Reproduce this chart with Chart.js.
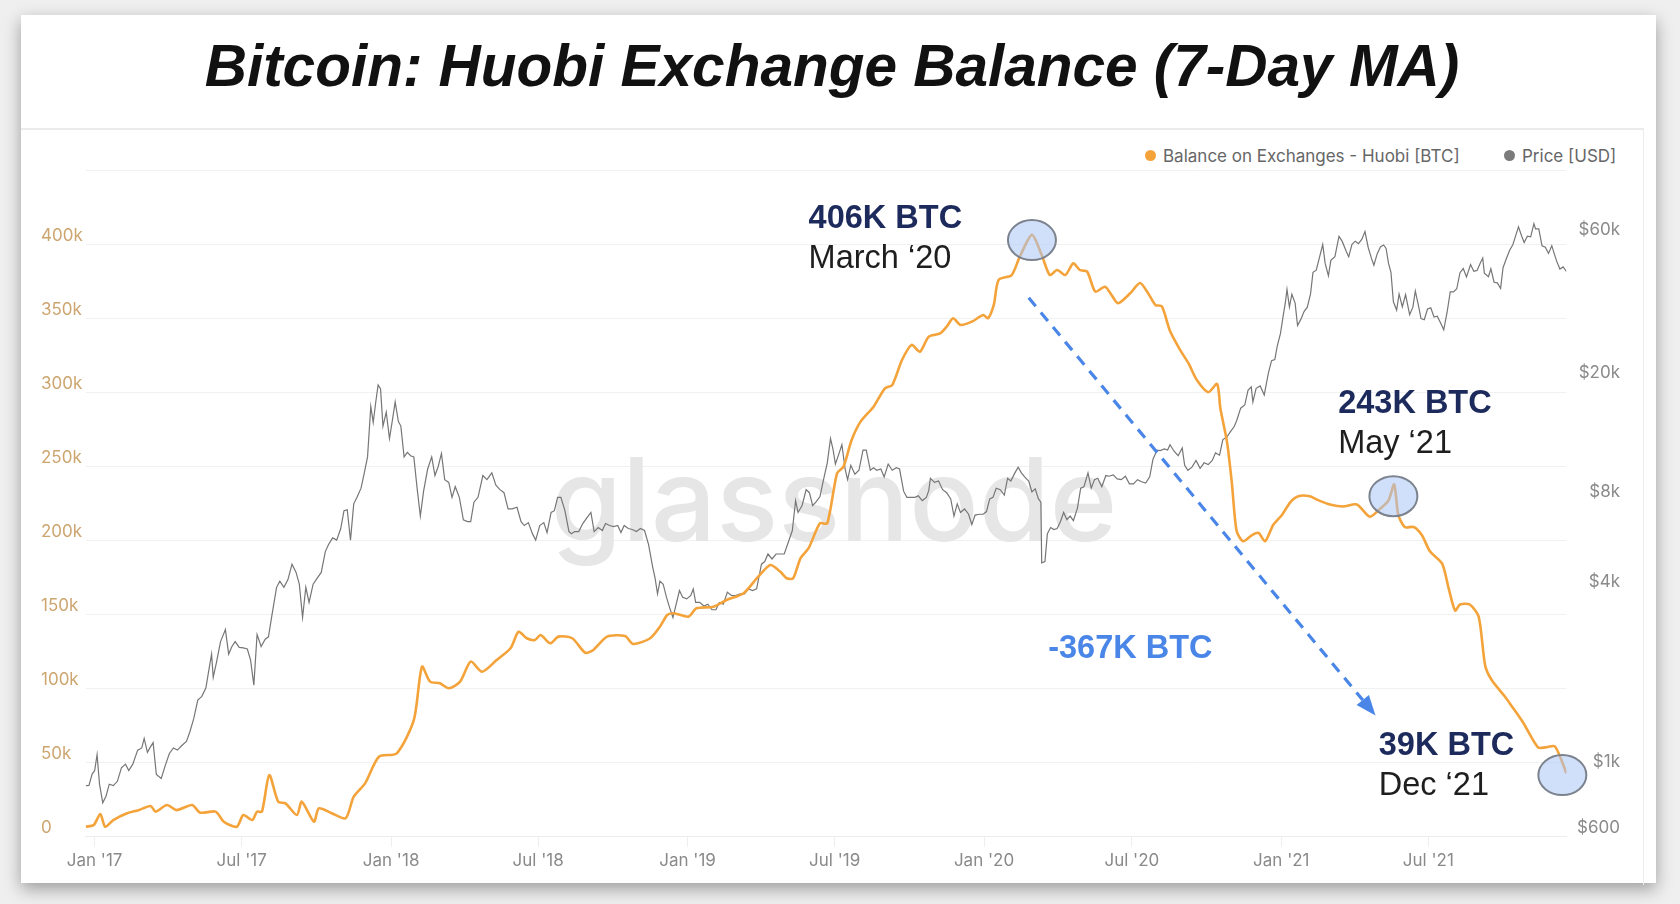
<!DOCTYPE html>
<html>
<head>
<meta charset="utf-8">
<script src="https://cdn.jsdelivr.net/npm/chart.js@4.4.1/dist/chart.umd.min.js"></script>
<style>
  html, body { margin:0; padding:0; width:1680px; height:904px; overflow:hidden; background:#efefef; }
  #card { position:absolute; left:21px; top:15px; width:1635px; height:868px; background:#fff;
          box-shadow:0 6px 16px rgba(0,0,0,0.35); }
  #panel { position:absolute; left:21px; top:128px; width:1622px; height:755px;
           border-top:2px solid #ebebeb; border-right:1px solid #ececec; }
  #title { position:absolute; left:21px; width:1622px; top:31.5px; line-height:58px; text-align:center;
           font: italic bold 58.5px "Liberation Sans", Arial, sans-serif; color:#111; white-space:nowrap; }
  .leg { position:absolute; top:145px; height:21px; display:flex; align-items:center;
         font: 17px Inter, sans-serif; color:#666; white-space:nowrap; }
  .dot { width:11px; height:11px; border-radius:50%; margin-right:7px; }
  #c { position:absolute; left:0; top:0; }
</style>
</head>
<body>
<div id="card"></div>
<div id="panel"></div>
<div id="title">Bitcoin: Huobi Exchange Balance (7-Day MA)</div>
<div class="leg" style="left:1145px"><span class="dot" style="background:#f4a33a"></span>Balance on Exchanges - Huobi [BTC]</div>
<div class="leg" style="left:1504px"><span class="dot" style="background:#7b7b7b"></span>Price [USD]</div>
<canvas id="c" width="1680" height="904"></canvas>
<script>
// ---------- DATA ----------
const balanceDates = ['2016-12-21','2016-12-31','2017-01-08','2017-01-14','2017-01-24','2017-02-10','2017-02-24','2017-03-11','2017-03-17','2017-03-31','2017-04-12','2017-05-01','2017-05-11','2017-05-30','2017-06-09','2017-06-25','2017-07-03','2017-07-14','2017-07-20','2017-07-26','2017-08-04','2017-08-15','2017-08-24','2017-09-07','2017-09-13','2017-09-28','2017-10-04','2017-10-20','2017-11-06','2017-11-16','2017-11-30','2017-12-17',
'2018-01-08','2018-01-29','2018-02-08','2018-02-18','2018-03-02','2018-03-13','2018-03-27','2018-04-09','2018-04-23','2018-05-11','2018-05-28','2018-06-07','2018-06-17','2018-06-27','2018-07-04','2018-07-16','2018-07-26','2018-08-12','2018-08-28','2018-09-07','2018-09-24','2018-10-16','2018-10-26','2018-11-16','2018-11-28','2018-12-07','2018-12-15',
'2019-01-02','2019-01-12','2019-02-02','2019-02-18','2019-03-11','2019-03-29','2019-04-13','2019-04-25','2019-05-03','2019-05-11','2019-05-20','2019-05-30','2019-06-13','2019-06-22','2019-07-04','2019-07-12','2019-07-22','2019-08-02','2019-08-18','2019-09-01','2019-09-10','2019-09-22','2019-10-04','2019-10-14','2019-10-25','2019-11-08','2019-11-16','2019-11-24','2019-12-03','2019-12-17','2019-12-31',
'2020-01-06','2020-01-13','2020-01-19','2020-02-04','2020-02-14','2020-02-29','2020-03-12','2020-03-22','2020-03-31','2020-04-10','2020-04-20','2020-04-28','2020-05-07','2020-05-17','2020-05-29','2020-06-06','2020-06-14','2020-06-29','2020-07-11','2020-07-21','2020-07-30','2020-08-07','2020-08-17','2020-08-29','2020-09-09','2020-09-19','2020-10-03','2020-10-14','2020-10-18','2020-10-26','2020-11-01','2020-11-07','2020-11-15','2020-11-26','2020-12-04','2020-12-12','2020-12-22',
'2021-01-02','2021-01-12','2021-01-22','2021-02-05','2021-02-16','2021-03-02','2021-03-18','2021-04-04','2021-04-20','2021-05-03','2021-05-13','2021-05-20','2021-05-25','2021-06-02','2021-06-13','2021-06-23','2021-07-03','2021-07-18','2021-07-26','2021-08-03','2021-08-09','2021-08-21','2021-09-01','2021-09-09','2021-09-17','2021-10-03','2021-10-12','2021-10-26','2021-11-13','2021-11-22','2021-12-04','2021-12-18'];

// Huobi exchange balance, thousands of BTC
const balanceKBtc = [6.8,8,15.4,6.8,11.3,15.9,18,20.8,17,21.5,18,21.5,16.3,17,10.2,6.8,14.7,11.3,17,17,41.7,23.7,22.6,14.7,23.7,10.2,19.2,15.9,12.5,27.1,36.1,54.1,
56.4,78.9,114.9,104.8,103.7,100.3,104.8,118.3,111.5,119.4,127.3,138.5,134.1,132.9,136.3,130.7,135.2,134.1,124.3,126.2,135.2,135.6,130.2,134.1,141.9,149.8,151,
148.7,154.3,155.4,159.9,164.5,175.7,183.6,179.1,174.6,174.6,188.1,194.9,211.7,211.7,245.5,250,268,280.4,290.5,302.9,305.1,322,332.2,327.6,337.8,340,344.5,350.2,345.7,347.9,352.4,
350.2,359.2,376.1,379.4,391.8,406.5,392.9,379.4,382.8,379.4,387.3,382.8,381.7,368.2,371.5,365.9,360.3,367.1,374,367.1,359.2,358.2,341.6,329.2,319.5,308.5,300.3,305.8,289.2,267.2,239.6,206.5,199.6,203.8,205.2,199.6,210.6,
217.5,225.9,230,230,227.2,224.4,223.1,224.4,216.2,221.7,227.2,238,217.5,209.2,209.2,203.8,192.8,184.5,167.9,152.8,156.9,156.9,148.7,115.6,105.9,94.9,88,76.9,60.4,60.4,61,43];

const priceDates = ['2016-12-21','2016-12-25','2016-12-29','2017-01-01','2017-01-04','2017-01-07','2017-01-11','2017-01-15','2017-01-19','2017-01-24','2017-01-29','2017-02-03','2017-02-08','2017-02-12','2017-02-17','2017-02-23','2017-02-28','2017-03-03','2017-03-07','2017-03-10','2017-03-14','2017-03-18','2017-03-24','2017-03-29','2017-04-03','2017-04-08','2017-04-13','2017-04-18','2017-04-24','2017-04-28','2017-05-03','2017-05-08','2017-05-13','2017-05-18','2017-05-22','2017-05-25','2017-05-27','2017-05-31','2017-06-05','2017-06-11','2017-06-15','2017-06-19','2017-06-23','2017-06-28','2017-07-03','2017-07-08','2017-07-12','2017-07-16','2017-07-20','2017-07-25','2017-07-30','2017-08-03','2017-08-08','2017-08-13','2017-08-17','2017-08-22','2017-08-27','2017-09-01','2017-09-06','2017-09-10','2017-09-14','2017-09-18','2017-09-22','2017-09-27','2017-10-02','2017-10-07','2017-10-12','2017-10-16','2017-10-21','2017-10-26','2017-10-31','2017-11-04','2017-11-08','2017-11-12','2017-11-16','2017-11-20','2017-11-25','2017-11-29','2017-12-03','2017-12-07','2017-12-10','2017-12-13','2017-12-16','2017-12-19','2017-12-22','2017-12-26','2017-12-30',
'2018-01-03','2018-01-06','2018-01-10','2018-01-13','2018-01-17','2018-01-21','2018-01-25','2018-01-29','2018-02-02','2018-02-06','2018-02-10','2018-02-15','2018-02-20','2018-02-24','2018-02-28','2018-03-04','2018-03-08','2018-03-13','2018-03-17','2018-03-21','2018-03-26','2018-03-31','2018-04-05','2018-04-09','2018-04-13','2018-04-18','2018-04-24','2018-04-29','2018-05-05','2018-05-10','2018-05-15','2018-05-20','2018-05-25','2018-05-30','2018-06-05','2018-06-10','2018-06-14','2018-06-19','2018-06-24','2018-06-28','2018-07-03','2018-07-08','2018-07-12','2018-07-17','2018-07-21','2018-07-25','2018-07-29','2018-08-03','2018-08-08','2018-08-11','2018-08-15','2018-08-20','2018-08-25','2018-08-30','2018-09-04','2018-09-08','2018-09-13','2018-09-18','2018-09-22','2018-09-27','2018-10-02','2018-10-07','2018-10-11','2018-10-15','2018-10-20','2018-10-25','2018-10-30','2018-11-04','2018-11-09','2018-11-14','2018-11-19','2018-11-22','2018-11-25','2018-11-28','2018-12-02','2018-12-06','2018-12-10','2018-12-14','2018-12-18','2018-12-22','2018-12-26','2018-12-31',
'2019-01-05','2019-01-08','2019-01-11','2019-01-16','2019-01-21','2019-01-26','2019-01-31','2019-02-05','2019-02-09','2019-02-14','2019-02-19','2019-02-24','2019-03-01','2019-03-07','2019-03-12','2019-03-17','2019-03-22','2019-03-27','2019-04-02','2019-04-06','2019-04-10','2019-04-15','2019-04-20','2019-04-25','2019-04-30','2019-05-05','2019-05-10','2019-05-14','2019-05-17','2019-05-22','2019-05-27','2019-05-31','2019-06-04','2019-06-08','2019-06-13','2019-06-17','2019-06-22','2019-06-26','2019-06-29','2019-07-02','2019-07-06','2019-07-10','2019-07-14','2019-07-17','2019-07-21','2019-07-26','2019-07-31','2019-08-05','2019-08-09','2019-08-14','2019-08-18','2019-08-22','2019-08-27','2019-08-31','2019-09-05','2019-09-10','2019-09-15','2019-09-19','2019-09-24','2019-09-28','2019-10-03','2019-10-08','2019-10-12','2019-10-17','2019-10-22','2019-10-25','2019-10-27','2019-11-01','2019-11-06','2019-11-11','2019-11-16','2019-11-21','2019-11-25','2019-11-29','2019-12-03','2019-12-08','2019-12-13','2019-12-17','2019-12-21','2019-12-26','2019-12-31',
'2020-01-04','2020-01-08','2020-01-12','2020-01-16','2020-01-21','2020-01-26','2020-01-30','2020-02-03','2020-02-08','2020-02-12','2020-02-16','2020-02-20','2020-02-25','2020-02-29','2020-03-04','2020-03-08','2020-03-11','2020-03-12','2020-03-16','2020-03-19','2020-03-23','2020-03-27','2020-03-31','2020-04-04','2020-04-08','2020-04-12','2020-04-16','2020-04-20','2020-04-25','2020-04-29','2020-05-03','2020-05-08','2020-05-12','2020-05-16','2020-05-20','2020-05-25','2020-05-30','2020-06-03','2020-06-08','2020-06-13','2020-06-18','2020-06-23','2020-06-28','2020-07-03','2020-07-08','2020-07-13','2020-07-18','2020-07-23','2020-07-27','2020-08-01','2020-08-05','2020-08-10','2020-08-14','2020-08-17','2020-08-22','2020-08-27','2020-09-01','2020-09-04','2020-09-08','2020-09-13','2020-09-18','2020-09-23','2020-09-28','2020-10-03','2020-10-08','2020-10-12','2020-10-17','2020-10-21','2020-10-26','2020-10-30','2020-11-04','2020-11-07','2020-11-12','2020-11-17','2020-11-21','2020-11-25','2020-11-27','2020-12-01','2020-12-06','2020-12-11','2020-12-16','2020-12-20','2020-12-24','2020-12-27','2020-12-31',
'2021-01-03','2021-01-06','2021-01-08','2021-01-11','2021-01-14','2021-01-18','2021-01-21','2021-01-25','2021-01-29','2021-02-02','2021-02-06','2021-02-09','2021-02-13','2021-02-17','2021-02-21','2021-02-24','2021-02-28','2021-03-03','2021-03-08','2021-03-13','2021-03-17','2021-03-22','2021-03-25','2021-03-29','2021-04-02','2021-04-06','2021-04-10','2021-04-14','2021-04-18','2021-04-22','2021-04-25','2021-04-29','2021-05-03','2021-05-07','2021-05-10','2021-05-13','2021-05-16','2021-05-19','2021-05-23','2021-05-26','2021-05-30','2021-06-03','2021-06-08','2021-06-12','2021-06-15','2021-06-19','2021-06-22','2021-06-26','2021-06-30','2021-07-04','2021-07-08','2021-07-12','2021-07-16','2021-07-20','2021-07-24','2021-07-28','2021-08-01','2021-08-05','2021-08-09','2021-08-13','2021-08-17','2021-08-22','2021-08-26','2021-08-30','2021-09-03','2021-09-06','2021-09-08','2021-09-13','2021-09-16','2021-09-20','2021-09-24','2021-09-28','2021-10-01','2021-10-05','2021-10-09','2021-10-13','2021-10-16','2021-10-20','2021-10-24','2021-10-27','2021-10-31','2021-11-04','2021-11-08','2021-11-10','2021-11-14','2021-11-18','2021-11-22','2021-11-26','2021-11-30','2021-12-03','2021-12-06','2021-12-10','2021-12-14','2021-12-18'];

const priceUsd = [890,892,975,998,1130,900,780,820,900,890,920,1020,1050,1000,1050,1170,1190,1280,1150,1190,1240,970,940,1040,1140,1190,1170,1210,1250,1340,1490,1720,1770,1890,2200,2450,2050,2300,2700,2960,2450,2600,2700,2580,2570,2550,2340,1930,2850,2600,2750,2800,3400,4100,4300,4100,4350,4900,4600,4200,3250,4100,3650,4200,4400,4600,5400,5700,6000,5900,6450,7400,7450,5900,7800,8200,8800,9900,11200,16500,14600,17000,19500,18900,14200,15800,12900,
15100,17100,14700,14200,11200,11600,11300,11200,8800,7100,8600,10200,11200,9700,10400,11500,9400,9200,8200,8900,8200,6900,6800,6800,7900,8200,9700,9400,9900,9000,8700,8500,7500,7500,7600,6800,6600,6750,6200,5900,6600,6750,6250,7300,7400,8200,8200,7400,6300,6200,6300,6300,6700,7000,7300,6300,6500,6350,6700,6600,6550,6600,6250,6600,6450,6400,6300,6450,6350,5700,4800,4400,3900,4300,4200,3800,3500,3250,3600,4000,3800,3750,
3850,4050,3650,3650,3550,3600,3450,3450,3650,3600,3950,3850,3850,3900,3900,4050,4000,4050,4900,5000,5300,5100,5300,5300,5300,5800,6350,8000,7300,7700,8700,8500,7700,7900,8250,9300,10700,12900,11900,10600,11400,12300,10200,9400,10500,9800,10100,11800,11800,10100,10300,10100,10200,9600,10600,10100,10300,10200,8600,8200,8200,8200,8300,8000,8200,8650,9500,9200,9300,8700,8500,8100,7100,7800,7300,7500,7200,6650,7150,7200,7200,
7350,8100,8200,8800,8700,8350,9500,9300,9900,10350,9900,9600,9300,8550,8750,8100,7900,4950,5000,6200,6500,6400,6450,6800,7300,6900,7100,6850,7550,8800,8900,9900,8800,9400,9500,8900,9700,9650,9750,9450,9400,9650,9100,9100,9400,9250,9150,9600,11000,11800,11750,11900,11800,12300,11700,11300,12000,10500,10100,10350,10900,10250,10700,10550,10900,11550,11350,12800,13050,13550,14150,14800,16300,16700,18700,19200,17100,19000,19350,18050,21300,23500,23700,26300,29000,
32800,36800,40700,35500,39200,36600,30800,32300,34300,35500,39300,46400,47200,52100,57500,49700,45200,50900,52400,61200,58900,54500,52300,57600,59000,57900,59800,63500,56200,51700,49000,53500,56400,57300,55800,49700,46400,37000,34700,39300,35600,39100,33500,35500,40200,35800,32500,32200,35000,35300,32900,33100,31500,29800,34000,39900,39900,40900,46300,47800,44800,49300,46800,47100,49900,51800,46100,44900,47700,43000,42800,41000,48100,51500,54900,57400,60900,65900,61300,58400,61300,61000,67500,64900,64900,56900,56300,53700,57000,53600,50600,47600,48400,46700];

const xTickDates  = ['2017-01-01','2017-07-01','2018-01-01','2018-07-01','2019-01-01','2019-07-01','2020-01-01','2020-07-01','2021-01-01','2021-07-01'];
const xTickLabels = ["Jan '17","Jul '17","Jan '18","Jul '18","Jan '19","Jul '19","Jan '20","Jul '20","Jan '21","Jul '21"];
const balanceTicks      = [0,50,100,150,200,250,300,350,400,450];
const balanceTickLabels = ['0','50k','100k','150k','200k','250k','300k','350k','400k',''];
const priceTicks      = [600,1000,4000,8000,20000,60000];
const priceTickLabels = ['$600','$1k','$4k','$8k','$20k','$60k'];

// annotations: ellipse anchored at (date, value in kBTC); text at (tx, ty / sy)
const callouts = [
  {title:'406K BTC', sub:'March \u201820', date:'2020-02-29', value:403, tx:'2019-05-30', ty:417, sy:390},
  {title:'243K BTC', sub:'May \u201821',   date:'2021-05-19', value:230, tx:'2021-03-12', ty:292, sy:265},
  {title:'39K BTC',  sub:'Dec \u201821',   date:'2021-12-13', value:41.7, tx:'2021-05-01', ty:61, sy:34}
];
const changeLabel = {text:'-367K BTC', date:'2020-03-20', value:127};
const arrowFrom = {date:'2020-02-25', value:364};
const arrowTo   = {date:'2021-04-27', value:82};

// ---------- HELPERS ----------
const EPOCH = Date.UTC(2017,0,1);
const toDay = s => { const [Y,M,D] = s.split('-').map(Number); return (Date.UTC(Y,M-1,D) - EPOCH)/864e5; };

const annotPlugin = {
  id:'annot',
  beforeDatasetsDraw(chart){
    const {ctx} = chart;
    ctx.save();
    ctx.font = '500 115px Inter, sans-serif';
    ctx.fillStyle = '#e6e6e6';
    ctx.textAlign = 'center';
    ctx.textBaseline = 'alphabetic';
    ctx.fillText('glassnode', 834, 541);
    ctx.restore();
  },
  afterDatasetsDraw(chart){
    const {ctx} = chart;
    const xs = chart.scales.x, ys = chart.scales.y;
    const px = d => xs.getPixelForValue(toDay(d));
    const py = v => ys.getPixelForValue(v);
    ctx.save();
    callouts.forEach(c => {
      ctx.beginPath();
      ctx.ellipse(px(c.date), py(c.value), 24, 20, 0, 0, Math.PI*2);
      ctx.fillStyle = 'rgba(170,196,245,0.55)';
      ctx.fill();
      ctx.lineWidth = 2;
      ctx.strokeStyle = '#7c838e';
      ctx.stroke();
    });
    const x1 = px(arrowFrom.date), y1 = py(arrowFrom.value);
    const x2 = px(arrowTo.date),   y2 = py(arrowTo.value);
    const ang = Math.atan2(y2-y1, x2-x1);
    const head = 20;
    ctx.strokeStyle = '#4a86e8';
    ctx.fillStyle = '#4a86e8';
    ctx.lineWidth = 3.2;
    ctx.setLineDash([11,8]);
    ctx.beginPath();
    ctx.moveTo(x1,y1);
    ctx.lineTo(x2 - Math.cos(ang)*head, y2 - Math.sin(ang)*head);
    ctx.stroke();
    ctx.setLineDash([]);
    ctx.beginPath();
    ctx.moveTo(x2,y2);
    ctx.lineTo(x2 - Math.cos(ang)*head + Math.sin(ang)*8, y2 - Math.sin(ang)*head - Math.cos(ang)*8);
    ctx.lineTo(x2 - Math.cos(ang)*head - Math.sin(ang)*8, y2 - Math.sin(ang)*head + Math.cos(ang)*8);
    ctx.closePath();
    ctx.fill();
    ctx.textAlign = 'left';
    ctx.textBaseline = 'middle';
    callouts.forEach(c => {
      ctx.font = 'bold 32.5px "Liberation Sans", Arial, sans-serif';
      ctx.fillStyle = '#1d2a5c';
      ctx.fillText(c.title, px(c.tx), py(c.ty));
      ctx.font = '32.5px "Liberation Sans", Arial, sans-serif';
      ctx.fillStyle = '#1e1e1e';
      ctx.fillText(c.sub, px(c.tx), py(c.sy));
    });
    ctx.font = 'bold 32.5px "Liberation Sans", Arial, sans-serif';
    ctx.fillStyle = '#4a86e8';
    ctx.fillText(changeLabel.text, px(changeLabel.date), py(changeLabel.value));
    ctx.restore();
  }
};

const axisFont = {family:'Inter', size:17};

new Chart(document.getElementById('c'), {
  type:'line',
  data:{
    datasets:[
      { label:'Balance on Exchanges - Huobi [BTC]',
        data: balanceDates.map((d,i)=>({x:toDay(d), y:balanceKBtc[i]})),
        yAxisID:'y', borderColor:'#f4a33a', borderWidth:2.6, pointRadius:0, tension:0.25, fill:false },
      { label:'Price [USD]',
        data: priceDates.map((d,i)=>({x:toDay(d), y:priceUsd[i]})),
        yAxisID:'yPrice', borderColor:'#767676', borderWidth:1.2, pointRadius:0, tension:0, fill:false }
    ]
  },
  options:{
    responsive:false, animation:false, devicePixelRatio:1,
    layout:{ padding:{ left:41, right:60, top:170.5, bottom:0 } },
    plugins:{ legend:{display:false}, tooltip:{enabled:false}, title:{display:false} },
    scales:{
      x:{
        type:'linear', min: toDay('2016-12-21'), max: toDay('2021-12-18'),
        afterBuildTicks: s => { s.ticks = xTickDates.map(d => ({value: toDay(d)})); },
        afterFit: s => { s.height = 904 - 836.8; },
        ticks:{ callback:(v,i)=>xTickLabels[i], color:'#8a8a8a', font:axisFont, padding:4, maxRotation:0, autoSkip:false },
        grid:{ drawOnChartArea:false, drawTicks:true, tickLength:10, color:'#eeeeee' },
        border:{ display:true, color:'#ececec' }
      },
      y:{
        position:'left', min:0, max:450,
        afterBuildTicks: s => { s.ticks = balanceTicks.map(v => ({value:v})); },
        afterFit: s => { s.width = 44.7; },
        ticks:{ callback:(v,i)=>balanceTickLabels[i], color:'#cda56f', font:axisFont, crossAlign:'far', labelOffset:-9 },
        grid:{ color:'#f1f1f1', drawTicks:false },
        border:{ display:false }
      },
      yPrice:{
        type:'logarithmic', position:'right', min:600, max:101700,
        afterBuildTicks: s => { s.ticks = priceTicks.map(v => ({value:v})); },
        afterFit: s => { s.width = 53.6; },
        ticks:{ callback:(v,i)=>priceTickLabels[i], color:'#8a8a8a', font:axisFont, crossAlign:'far', labelOffset:-9 },
        grid:{ display:false },
        border:{ display:false }
      }
    }
  },
  plugins:[annotPlugin]
});
</script>
</body>
</html>
